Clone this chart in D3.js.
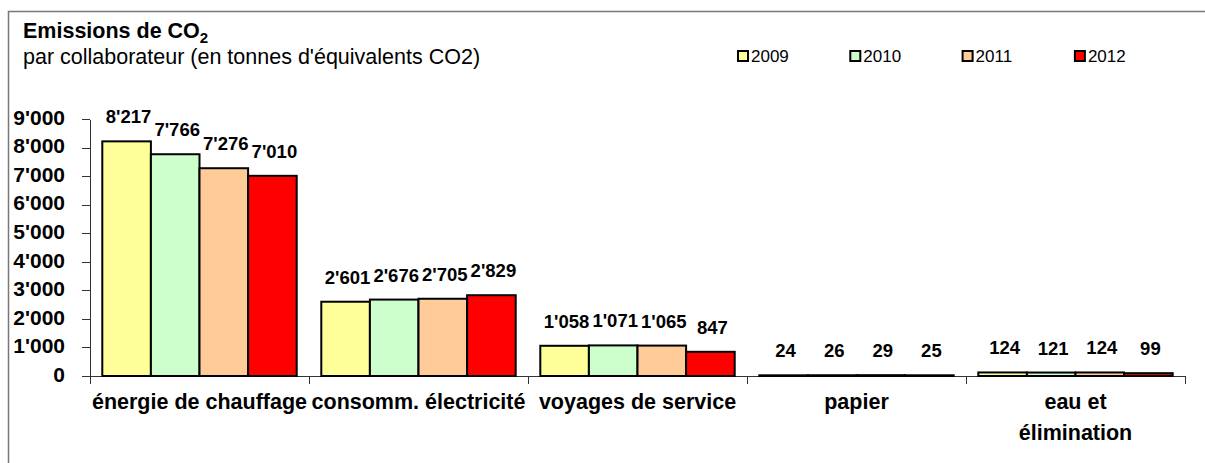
<!DOCTYPE html>
<html lang="fr">
<head>
<meta charset="UTF-8">
<title>Emissions de CO2</title>
<script src="https://cdn.jsdelivr.net/npm/d3@7"></script>
<style type="text/css">
	body { margin: 0; background: #fff; }
	svg text { font-family: "Liberation Sans", Arial, sans-serif; }
	.axis path, .axis line { fill: none; stroke: #333; stroke-width: 1px; shape-rendering: crispEdges; }
	.y.axis text { font-size: 21px; font-weight: bold; fill: #000; font-family: "Liberation Sans", Arial, sans-serif; }
	.value { font-size: 18.5px; font-weight: bold; fill: #000; text-anchor: middle; }
	.cat { font-size: 21.5px; font-weight: bold; fill: #000; text-anchor: middle; }
	.legend text { font-size: 17px; fill: #000; }
</style>
</head>
<body>
<script type="text/javascript">

var categories = [['énergie de chauffage'], ['consomm. électricité'], ['voyages de service'], ['papier'], ['eau et', 'élimination']];
var years = ['2009', '2010', '2011', '2012'];
var colors = ['#ffff99', '#ccffcc', '#ffcc99', '#ff0000'];
var values2009 = [8217, 2601, 1058, 24, 124];
var values2010 = [7766, 2676, 1071, 26, 121];
var values2011 = [7276, 2705, 1065, 29, 124];
var values2012 = [7010, 2829, 847, 25, 99];
var yTicks = [0, 1000, 2000, 3000, 4000, 5000, 6000, 7000, 8000, 9000];

var series = [values2009, values2010, values2011, values2012];
var catKeys = categories.map(c => c.join(' '));

var width = 1205, height = 463;
var fmt = d3.formatLocale({ decimal: '.', thousands: "'", grouping: [3], currency: ['', ''] }).format(',d');

var svg = d3.select('body').append('svg')
	.attr('width', width)
	.attr('height', height);

// outer frame (cut by window on the right and bottom)
svg.append('rect')
	.attr('x', 8.5).attr('y', 11.5)
	.attr('width', 1300).attr('height', 600)
	.attr('fill', 'none').attr('stroke', '#777').attr('stroke-width', 1.5);

// titles
var title = svg.append('text').attr('x', 23).attr('y', 38)
	.style('font-size', '21.5px').style('font-weight', 'bold');
title.append('tspan').text('Emissions de CO');
title.append('tspan').attr('dy', 5).style('font-size', '15px').text('2');

svg.append('text').attr('x', 23).attr('y', 64)
	.style('font-size', '21.5px')
	.text("par collaborateur (en tonnes d'équivalents CO2)");

// legend
var legend = svg.selectAll('.legend')
	.data(years)
	.enter().append('g')
	.attr('class', 'legend')
	.attr('transform', (d, i) => 'translate(' + (738 + i * 112.3) + ',51)');

legend.append('rect')
	.attr('width', 10).attr('height', 10)
	.style('fill', (d, i) => colors[i])
	.attr('stroke', '#000').attr('stroke-width', 2);

legend.append('text')
	.attr('x', 13).attr('y', 11)
	.text(d => d);

// scales
var x0 = d3.scaleBand().domain(catKeys).range([90, 1185]);
var x1 = d3.scaleBand().domain(years).range([0, x0.bandwidth()]).paddingOuter(0.253);
var y = d3.scaleLinear().domain([0, 9000]).range([376, 119]);

// axes
svg.append('g')
	.attr('class', 'y axis')
	.attr('transform', 'translate(90,0)')
	.call(d3.axisLeft(y).tickValues(yTicks).tickFormat(fmt).tickSize(8).tickPadding(17).tickSizeOuter(0))
	.call(g => g.selectAll('text').attr('dy', '0.25em').attr('font-family', null).attr('font-size', null));

var xAxis = svg.append('g')
	.attr('class', 'x axis')
	.attr('transform', 'translate(0,376)');
xAxis.append('line').attr('x1', 90).attr('x2', 1185);
xAxis.selectAll('.tick')
	.data(catKeys.concat(['end']))
	.enter().append('line')
	.attr('x1', (d, i) => i < catKeys.length ? x0(d) : 1185)
	.attr('x2', (d, i) => i < catKeys.length ? x0(d) : 1185)
	.attr('y1', 0).attr('y2', 8);

// bars
var rows = [];
categories.forEach((c, ci) => {
	years.forEach((yr, yi) => {
		rows.push({ cat: catKeys[ci], year: yr, yi: yi, value: series[yi][ci] });
	});
});

var groups = svg.append('g');
groups.selectAll('.bar')
	.data(rows)
	.enter().append('rect')
	.attr('class', 'bar')
	.attr('x', d => x0(d.cat) + x1(d.year))
	.attr('y', d => y(d.value))
	.attr('width', x1.bandwidth())
	.attr('height', d => y(0) - y(d.value))
	.style('fill', d => colors[d.yi])
	.attr('stroke', '#000')
	.attr('stroke-width', 2);

groups.selectAll('.value')
	.data(rows)
	.enter().append('text')
	.attr('class', 'value')
	.attr('x', d => x0(d.cat) + x1(d.year) + x1.bandwidth() / 2 + 2)
	.attr('y', d => y(d.value) - 18)
	.text(d => fmt(d.value));

// category labels
var cats = svg.selectAll('.cat')
	.data(categories)
	.enter().append('text')
	.attr('class', 'cat')
	.attr('x', (d, i) => x0(catKeys[i]) + x0.bandwidth() / 2)
	.attr('y', 409);

cats.selectAll('tspan')
	.data(d => d)
	.enter().append('tspan')
	.attr('x', function () { return d3.select(this.parentNode).attr('x'); })
	.attr('dy', (d, i) => i ? 31 : 0)
	.text(d => d);

</script>
</body>
</html>
